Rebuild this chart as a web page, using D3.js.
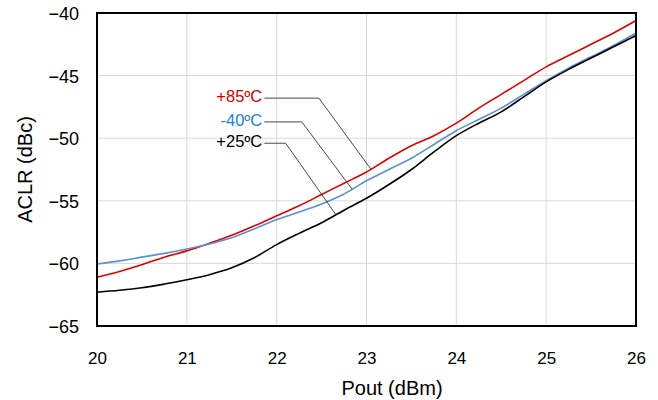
<!DOCTYPE html>
<html>
<head>
<meta charset="utf-8">
<script src="https://cdn.jsdelivr.net/npm/d3@7"></script>
<style>
  body { margin: 0; background: #fff; }
  text { font-family: "Liberation Sans", Arial, sans-serif; }
  .grid line { stroke: #d9d9d9; stroke-width: 1; }
  .leader { fill: none; stroke: #333; stroke-width: 0.9; }
</style>
</head>
<body>
<div id="chart"></div>
<script>
// Pout (dBm) sample points
const pout = [20, 20.25, 20.5, 20.75, 21, 21.25, 21.5, 21.75, 22, 22.25, 22.5, 22.75,
              23, 23.25, 23.5, 23.75, 24, 24.25, 24.5, 24.75, 25, 25.25, 25.5, 25.75, 26];

// ACLR (dBc) per temperature
const aclrHot = [-61.1, -60.65, -60.1, -59.5, -59.0, -58.4, -57.75, -57.0, -56.2, -55.4, -54.5, -53.6,
                 -52.7, -51.6, -50.6, -49.8, -48.8, -47.6, -46.5, -45.4, -44.3, -43.4, -42.5, -41.6, -40.6];
const aclrCold = [-60.05, -59.8, -59.5, -59.2, -58.85, -58.45, -57.95, -57.25, -56.5, -55.9, -55.25, -54.45,
                  -53.4, -52.5, -51.6, -50.5, -49.4, -48.5, -47.6, -46.5, -45.4, -44.4, -43.5, -42.6, -41.6];
const aclrRoom = [-62.3, -62.15, -61.95, -61.65, -61.3, -60.9, -60.35, -59.55, -58.5, -57.6, -56.75, -55.75,
                  -54.8, -53.7, -52.5, -51.1, -49.8, -48.8, -47.9, -46.7, -45.5, -44.5, -43.6, -42.7, -41.8];

const seriesNames = ["+85ºC", "-40ºC", "+25ºC"];
const seriesValues = [aclrHot, aclrCold, aclrRoom];
const seriesColors = ["#e00000", "#5b8fd6", "#000000"];
const labelColors = ["#d00000", "#1f7fd6", "#000000"];

// label annotations in data units: text end x, label y, elbow x, target x on curve
const labelX = [21.84, 21.84, 21.84];
const labelY = [-46.8, -48.7, -50.4];
const elbowX = [22.47, 22.28, 22.10];
const targetX = [23.05, 22.84, 22.66];

const xTicks = [20, 21, 22, 23, 24, 25, 26];
const yTicks = [-65, -60, -55, -50, -45, -40];

const W = 658, H = 400;
const margin = {left: 97, right: 22, top: 13, bottom: 74};

const svg = d3.select("#chart").append("svg")
    .attr("width", W)
    .attr("height", H);

const x = d3.scaleLinear().domain([20, 26]).range([margin.left, W - margin.right]);
const y = d3.scaleLinear().domain([-65, -40]).range([H - margin.bottom, margin.top]);

// gridlines
const grid = svg.append("g").attr("class", "grid");
grid.selectAll(".gx").data(xTicks).enter().append("line")
    .attr("x1", d => x(d)).attr("x2", d => x(d))
    .attr("y1", y(-40)).attr("y2", y(-65));
grid.selectAll(".gy").data(yTicks).enter().append("line")
    .attr("x1", x(20)).attr("x2", x(26))
    .attr("y1", d => y(d)).attr("y2", d => y(d));

// axes (labels only, no tick marks)
const xAxis = svg.append("g")
    .attr("transform", `translate(0,${y(-65)})`)
    .call(d3.axisBottom(x).tickValues(xTicks).tickSize(0).tickPadding(0).tickFormat(d3.format("d")));
xAxis.select(".domain").remove();
xAxis.selectAll("text")
    .attr("y", 38).attr("dy", null)
    .style("font-size", "17px").attr("fill", "#000")
    .style("font-family", "\"Liberation Sans\", Arial, sans-serif");

const yAxis = svg.append("g")
    .attr("transform", `translate(${x(20)},0)`)
    .call(d3.axisLeft(y).tickValues(yTicks).tickSize(0).tickPadding(18).tickFormat(d3.format("d")));
yAxis.select(".domain").remove();
yAxis.selectAll("text")
    .attr("dy", "0.36em")
    .style("font-size", "18px").attr("fill", "#000")
    .style("font-family", "\"Liberation Sans\", Arial, sans-serif");

// series
const line = d3.line()
    .x((d, i) => x(pout[i]))
    .y(d => y(d))
    .curve(d3.curveCatmullRom.alpha(0.5));

svg.append("g").selectAll("path")
    .data(seriesValues)
    .enter().append("path")
    .attr("d", d => line(d))
    .attr("fill", "none")
    .attr("stroke", (d, i) => seriesColors[i])
    .attr("stroke-width", 1.6);

// plot border
svg.append("rect")
    .attr("x", x(20)).attr("y", y(-40))
    .attr("width", x(26) - x(20)).attr("height", y(-65) - y(-40))
    .attr("fill", "none").attr("stroke", "#000").attr("stroke-width", 2);

// labels with leader lines
function valueAt(vals, px) {
    const i = Math.min(d3.bisectRight(pout, px) - 1, pout.length - 2);
    const t = (px - pout[i]) / (pout[i + 1] - pout[i]);
    return vals[i] + t * (vals[i + 1] - vals[i]);
}

const labels = svg.append("g");
seriesNames.forEach((name, i) => {
    const lx = x(labelX[i]), ly = y(labelY[i]);
    labels.append("path")
        .attr("class", "leader")
        .attr("d", d3.line()([
            [lx + 2, ly],
            [x(elbowX[i]), ly],
            [x(targetX[i]), y(valueAt(seriesValues[i], targetX[i]))]
        ]));
    labels.append("text")
        .attr("x", lx).attr("y", ly + 4)
        .attr("text-anchor", "end")
        .style("font-size", "16.5px")
        .attr("fill", labelColors[i])
        .text(name);
});

// axis titles
svg.append("text")
    .attr("x", 392).attr("y", 395)
    .attr("text-anchor", "middle")
    .style("font-size", "20px")
    .text("Pout (dBm)");

svg.append("text")
    .attr("transform", `translate(32,${(y(-40) + y(-65)) / 2}) rotate(-90)`)
    .attr("text-anchor", "middle")
    .style("font-size", "20px")
    .text("ACLR (dBc)");
</script>
</body>
</html>
